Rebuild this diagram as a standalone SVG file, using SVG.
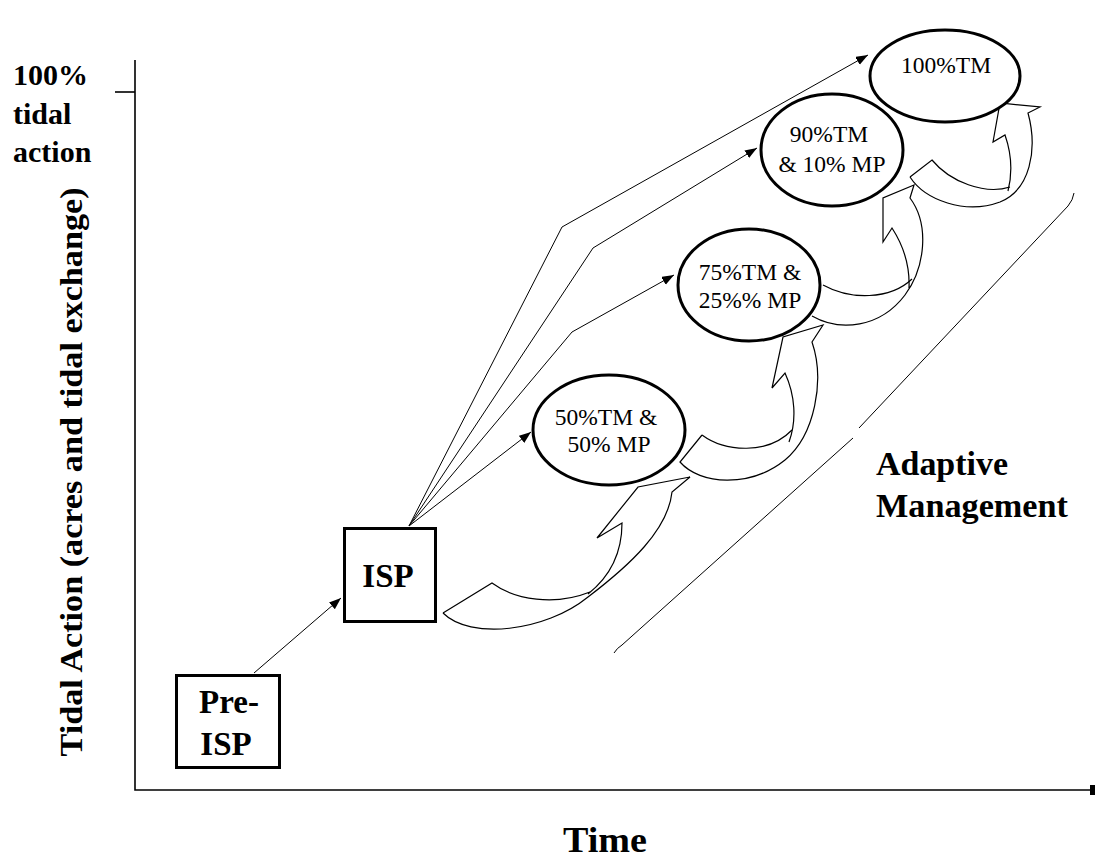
<svg xmlns="http://www.w3.org/2000/svg" width="1095" height="863" viewBox="0 0 1095 863">
  <style>
    .bold { font-family: "Liberation Serif", "Times New Roman", serif; font-weight: bold; fill: #000; }
    .reg { font-family: "Liberation Serif", "Times New Roman", serif; font-size: 23.5px; fill: #000; text-anchor: middle; }
    .box { fill: #fff; stroke: #000; stroke-width: 3; }
    .oval { fill: #fff; stroke: #000; stroke-width: 3; }
    .axis { fill: none; stroke: #000; stroke-width: 1.6; }
    .link { fill: none; stroke: #000; stroke-width: 1; }
    .curve { fill: none; stroke: #000; stroke-width: 1.2; stroke-linejoin: miter; }
  </style>
  <defs>
    <marker id="head" markerUnits="userSpaceOnUse" markerWidth="13" markerHeight="10" refX="12" refY="4.5" orient="auto">
      <path d="M0,0 L12,4.5 L0,9 Z" fill="#000"/>
    </marker>
  </defs>
  <rect width="1095" height="863" fill="#fff"/>

  <!-- axes and axis titles -->
  <g id="axes">
    <path class="axis" d="M135,60 V790 H1090"/>
    <path class="axis" d="M115,92 H135"/>
    <rect x="1090" y="785" width="5" height="10" fill="#000"/>
    <text class="bold" font-size="30" x="13" y="85">100%</text>
    <text class="bold" font-size="30" x="13" y="124">tidal</text>
    <text class="bold" font-size="30" x="13" y="162">action</text>
    <text class="bold" font-size="32" text-anchor="middle" textLength="569" lengthAdjust="spacingAndGlyphs" transform="translate(82,472) rotate(-90)">Tidal Action (acres and tidal exchange)</text>
    <text class="bold" font-size="35" text-anchor="middle" textLength="84" lengthAdjust="spacingAndGlyphs" x="605" y="852">Time</text>
  </g>

  <!-- adaptive management band -->
  <g id="adaptive-management">
    <path class="link" d="M614,653 Q617,648 622,645 L853,438 M859,428 L1068,206 Q1073,200 1074,193"/>
    <text class="bold" font-size="33" x="876" y="475" textLength="132" lengthAdjust="spacingAndGlyphs">Adaptive</text>
    <text class="bold" font-size="33" x="876" y="517" textLength="192" lengthAdjust="spacingAndGlyphs">Management</text>
  </g>

  <!-- connectors -->
  <g id="connectors">
    <path class="link" d="M254,673 L341,598" marker-end="url(#head)"/>
    <path class="link" d="M409,526 L531,432" marker-end="url(#head)"/>
    <path class="link" d="M409,526 L572,332 L674,275" marker-end="url(#head)"/>
    <path class="link" d="M409,526 L593,248 L757,148" marker-end="url(#head)"/>
    <path class="link" d="M409,526 L562,227 L868,55" marker-end="url(#head)"/>
  </g>

  <!-- curved adaptive-management arrows -->
  <g id="curved-arrows">
    <g id="arrow-isp-50">
      <path class="curve" d="M443,613 C470,640 545,632 588,597 C630,565 668,530 672,492 L690,477 L638,487 L597,538 L622,523 C622,550 612,575 588,594"/>
      <path class="curve" d="M443,613 L492,583 C515,600 555,606 590,592"/>
    </g>
    <g id="arrow-50-75">
      <path class="curve" d="M702,435 L680,462 C700,485 750,488 785,460 C815,435 825,380 812,342 L823,325 L783,337 L772,388 L785,373 C795,395 797,420 789,442"/>
      <path class="curve" d="M702,435 C725,452 768,455 792,430"/>
    </g>
    <g id="arrow-75-90">
      <path class="curve" d="M812,316 C840,332 880,328 905,295 C925,268 930,225 910,198 L914,185 L883,198 L883,242 L892,228 C903,245 910,265 909,288"/>
      <path class="curve" d="M823,285 C850,300 890,300 912,279"/>
    </g>
    <g id="arrow-90-100">
      <path class="curve" d="M910,177 C925,200 965,215 1000,202 C1030,190 1038,150 1028,113 L1040,107 L1000,103 L993,142 L1005,135 C1012,155 1012,175 1008,191"/>
      <path class="curve" d="M910,177 L932,160 C950,182 985,195 1010,187"/>
    </g>
  </g>

  <!-- nodes -->
  <g id="pre-isp">
    <rect class="box" x="176.5" y="675.5" width="103" height="92"/>
    <text class="bold" font-size="33" text-anchor="middle" x="229" y="713">Pre-</text>
    <text class="bold" font-size="33" text-anchor="middle" x="226" y="755">ISP</text>
  </g>
  <g id="isp">
    <rect class="box" x="344.5" y="528.5" width="91" height="93"/>
    <text class="bold" font-size="33" text-anchor="middle" x="388" y="587">ISP</text>
  </g>
  <g id="tm50">
    <ellipse class="oval" cx="609" cy="430" rx="76" ry="55"/>
    <text class="reg" x="606" y="425">50%TM &amp;</text>
    <text class="reg" x="609" y="452">50% MP</text>
  </g>
  <g id="tm75">
    <ellipse class="oval" cx="749" cy="285" rx="71" ry="56"/>
    <text class="reg" x="750" y="280">75%TM &amp;</text>
    <text class="reg" x="750" y="308">25%% MP</text>
  </g>
  <g id="tm90">
    <ellipse class="oval" cx="832" cy="150" rx="71" ry="56"/>
    <text class="reg" x="829" y="142">90%TM</text>
    <text class="reg" x="832" y="172">&amp; 10% MP</text>
  </g>
  <g id="tm100">
    <ellipse class="oval" cx="945" cy="76" rx="75" ry="46"/>
    <text class="reg" x="946" y="73">100%TM</text>
  </g>
</svg>
